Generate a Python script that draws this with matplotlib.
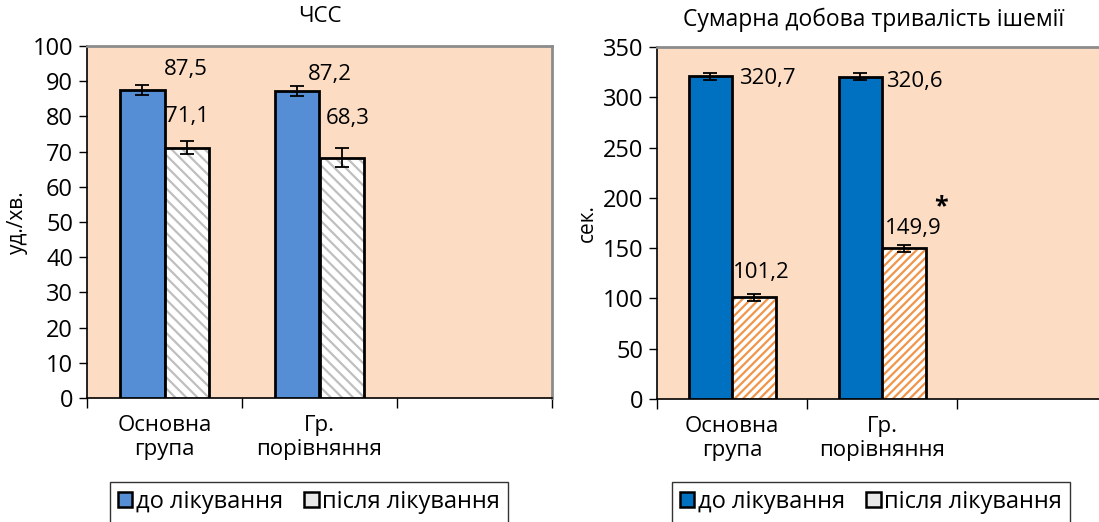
import numpy as np
import matplotlib
matplotlib.use("Agg")
import matplotlib.pyplot as plt
from matplotlib.patches import Patch

plt.rcParams['font.family'] = ['Open Sans', 'DejaVu Sans']
plt.rcParams['hatch.linewidth'] = 1.6

# Data
CATEGORIES = ["Основна\nгрупа", "Гр.\nпорівняння"]
SERIES = ["до лікування", "після лікування"]

HR_BEFORE = [87.5, 87.2]
HR_AFTER = [71.1, 68.3]
HR_BEFORE_ERR = [1.5, 1.5]
HR_AFTER_ERR = [1.9, 2.6]
HR_LABELS_BEFORE = ["87,5", "87,2"]
HR_LABELS_AFTER = ["71,1", "68,3"]

ISCH_BEFORE = [320.7, 320.6]
ISCH_AFTER = [101.2, 149.9]
ISCH_BEFORE_ERR = [3.6, 3.6]
ISCH_AFTER_ERR = [3.6, 3.3]
ISCH_LABELS_BEFORE = ["320,7", "320,6"]
ISCH_LABELS_AFTER = ["101,2", "149,9"]

BG = '#FCDDC4'
FS = 17
W = 0.29


def draw_panel(ax, before, after, err_b, err_a, lab_b, lab_a, off_b, off_a,
               ymax, ystep, before_color, hatch_color, hatch, ylabel):
    ax.set_facecolor(BG)
    x = np.arange(len(CATEGORIES)) + 0.5
    xb = x - W / 2
    xa = x + W / 2
    ax.bar(xb, before, W, color=before_color, edgecolor='black', linewidth=2, zorder=3)
    # hatched bars: hatch first, outline after
    ax.bar(xa, after, W, color='white', edgecolor=hatch_color, linewidth=0, hatch=hatch, zorder=3)
    ax.bar(xa, after, W, fill=False, edgecolor='black', linewidth=2, zorder=4)
    ax.errorbar(xb, before, yerr=err_b, fmt='none', ecolor='black', elinewidth=1.3, capsize=5, capthick=1.3, zorder=5)
    ax.errorbar(xa, after, yerr=err_a, fmt='none', ecolor='black', elinewidth=1.3, capsize=5, capthick=1.3, zorder=5)
    for i in range(len(x)):
        ax.annotate(lab_b[i], (xb[i], before[i]), xytext=off_b[i], textcoords='offset pixels',
                    ha='center', va='center', fontsize=FS - 1)
        ax.annotate(lab_a[i], (xa[i], after[i]), xytext=off_a[i], textcoords='offset pixels',
                    ha='center', va='center', fontsize=FS - 1)

    ax.set_xlim(0, 3)
    ax.set_ylim(0, ymax)
    ax.set_yticks(np.arange(0, ymax + 1, ystep))
    ax.set_xticks([0, 1, 2, 3])
    ax.set_xticklabels([])
    ax.set_xticks(x, minor=True)
    ax.set_xticklabels(CATEGORIES, minor=True, fontsize=FS - 1)
    ax.tick_params(axis='x', which='major', direction='out', length=7, width=1)
    ax.tick_params(axis='x', which='minor', length=0, pad=12)
    ax.tick_params(axis='y', direction='out', length=6, width=1, labelsize=FS, pad=4)
    for s in ['top', 'right']:
        ax.spines[s].set_color('#8c8c8c')
        ax.spines[s].set_linewidth(2)
    for s in ['left', 'bottom']:
        ax.spines[s].set_color('black')
        ax.spines[s].set_linewidth(1.2)
    ax.set_ylabel(ylabel, fontsize=FS - 2, labelpad=3)
    return xa


fig = plt.figure(figsize=(10.99, 5.22), dpi=100)

ax1 = fig.add_axes([87 / 1099, 1 - 398 / 522, 465 / 1099, 352 / 522])
draw_panel(ax1, HR_BEFORE, HR_AFTER, HR_BEFORE_ERR, HR_AFTER_ERR,
           HR_LABELS_BEFORE, HR_LABELS_AFTER,
           [(44, 20), (33, 17)], [(0, 31), (6, 39)],
           100, 10, '#558ED5', '#BFBFBF', '\\\\\\', "уд./хв.")
fig.text(320 / 1099, 1 - 17 / 522, "ЧСС", ha='center', va='center', fontsize=FS - 1)

ax2 = fig.add_axes([657 / 1099, 1 - 399 / 522, 450 / 1099, 352 / 522])
xa2 = draw_panel(ax2, ISCH_BEFORE, ISCH_AFTER, ISCH_BEFORE_ERR, ISCH_AFTER_ERR,
                 ISCH_LABELS_BEFORE, ISCH_LABELS_AFTER,
                 [(57, -2), (54, -5)], [(8, 25), (10, 20)],
                 350, 50, '#0070C0', '#F0954A', '////', "сек.")
ax2.annotate("*", (xa2[1], ISCH_AFTER[1]), xytext=(37, 42), textcoords='offset pixels',
             ha='center', va='center', fontsize=FS + 1, fontweight='bold')
fig.text(874 / 1099, 1 - 20 / 522, "Сумарна добова тривалість ішемії",
         ha='center', va='center', fontsize=FS - 0.5)

# legends
for left, bcol in [(110, '#558ED5'), (672, '#0070C0')]:
    handles = [Patch(facecolor=bcol, edgecolor='black', linewidth=1.8),
               Patch(facecolor='#E8E8E8', edgecolor='black', linewidth=1.8)]
    leg = fig.legend(handles, SERIES, loc='upper left',
                     bbox_to_anchor=(left / 1099, 1 - 482 / 522), ncol=2,
                     frameon=True, fancybox=False, edgecolor='black', fontsize=FS,
                     handlelength=0.6, handleheight=0.6, handletextpad=0.15,
                     columnspacing=0.9, borderpad=0.35, borderaxespad=0)
    leg.get_frame().set_linewidth(1.0)

fig.savefig("out.png", dpi=100)
